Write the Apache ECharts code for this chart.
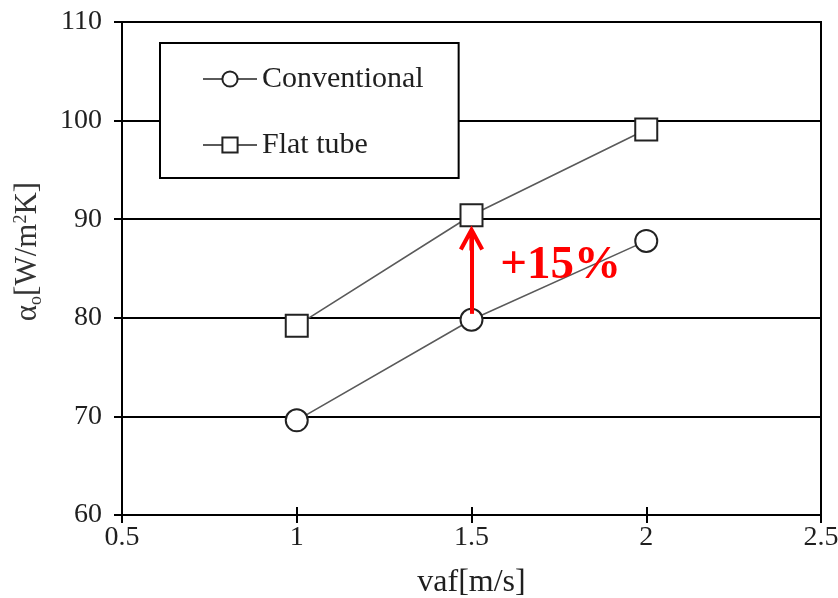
<!DOCTYPE html>
<html>
<head>
<meta charset="utf-8">
<script src="https://cdn.jsdelivr.net/npm/echarts@6/dist/echarts.min.js"></script>
<style>
  html, body { margin: 0; padding: 0; background: #fff; }
  #chart { width: 838px; height: 598px; }
</style>
</head>
<body>
<div id="chart"></div>
<script>
// Air-side heat transfer coefficient vs. frontal air velocity
const velocity = [1, 1.5, 2];
const conventional = [69.6, 79.8, 87.8];
const flatTube = [79.2, 90.4, 99.1];
const seriesNames = ['Conventional', 'Flat tube'];
const gainLabel = '+15%';
const gainArrow = { x: 1.5, from: 80.4, to: 88.1 };
const gainLabelPos = [1.755, 85.3];

const serif = '"Liberation Serif", "Times New Roman", serif';
const ink = '#1f1f1f';

const chart = echarts.init(document.getElementById('chart'));

function toPairs(xs, ys) { return xs.map((x, i) => [x, ys[i]]); }

const markerStyle = { color: '#fff', borderColor: '#222', borderWidth: 2 };
const lineStyle = { color: '#5a5a5a', width: 1.6 };

// open chevron arrow head with its stem, tip at the top of the box
const chevron = 'path://M12 0 L24 23 L20.5 25 L14 12.5 L14 25 L10 25 L10 12.5 L3.5 25 L0 23 Z';

const xScale = { type: 'value', min: 0.5, max: 2.5, interval: 0.5 };

chart.setOption({
  animation: false,
  backgroundColor: '#fff',
  grid: {
    left: 122, right: 17, top: 22, bottom: 83,
    outerBoundsMode: 'none', containLabel: false,
    show: true, borderColor: '#000', borderWidth: 2, backgroundColor: 'transparent'
  },
  legend: {
    orient: 'vertical',
    left: 160, top: 43,
    padding: [21, 35, 18, 42],
    itemGap: 36,
    itemWidth: 54, itemHeight: 19,
    backgroundColor: '#fff',
    borderColor: '#000', borderWidth: 2, borderRadius: 0,
    textStyle: { fontFamily: serif, fontSize: 30, color: ink },
    data: seriesNames
  },
  xAxis: [
    Object.assign({}, xScale, {
      name: 'vaf[m/s]', nameLocation: 'middle', nameGap: 52,
      nameTextStyle: { fontFamily: serif, fontSize: 32, color: ink },
      axisLine: { onZero: false, lineStyle: { color: '#000', width: 2 } },
      axisTick: { show: true, length: 8, lineStyle: { color: '#000', width: 2 } },
      axisLabel: { fontFamily: serif, fontSize: 28, color: ink, margin: 9 },
      splitLine: { show: false }
    }),
    // upper half of the crossing x ticks
    Object.assign({}, xScale, {
      position: 'bottom', offset: 0,
      axisLine: { show: false, onZero: false },
      axisTick: { show: true, inside: true, length: 8, lineStyle: { color: '#000', width: 2 } },
      axisLabel: { show: false },
      splitLine: { show: false }
    })
  ],
  yAxis: {
    type: 'value', min: 60, max: 110, interval: 10,
    name: '{a|α}{s|o}{a|[W/m}{p|2}{a|K]}',
    nameLocation: 'middle', nameGap: 76, nameRotate: 90,
    nameTextStyle: {
      padding: [0, 0, 0, 34],
      rich: {
        a: { fontFamily: serif, fontSize: 31, color: '#333', lineHeight: 36 },
        s: { fontFamily: serif, fontSize: 18, color: '#333', padding: [16, 0, 0, 0] },
        p: { fontFamily: serif, fontSize: 18, color: '#333', padding: [0, 0, 14, 0] }
      }
    },
    axisLine: { lineStyle: { color: '#000', width: 2 } },
    axisTick: { show: true, length: 8, lineStyle: { color: '#000', width: 2 } },
    axisLabel: { fontFamily: serif, fontSize: 28, color: ink, margin: 20 },
    splitLine: { show: true, lineStyle: { color: '#000', width: 2 } }
  },
  series: [
    {
      name: seriesNames[0], type: 'line', z: 3,
      data: toPairs(velocity, conventional),
      symbol: 'circle', symbolSize: 22,
      lineStyle: lineStyle, itemStyle: markerStyle
    },
    {
      name: seriesNames[1], type: 'line', z: 3,
      data: toPairs(velocity, flatTube),
      symbol: 'rect', symbolSize: 22,
      lineStyle: lineStyle, itemStyle: markerStyle,
      markLine: {
        silent: true, z: 5,
        symbol: ['none', chevron], symbolSize: [25, 25],
        lineStyle: { color: '#ff0000', width: 4, type: 'solid' },
        itemStyle: { color: '#ff0000' },
        label: { show: false },
        data: [[{ coord: [gainArrow.x, gainArrow.from] }, { coord: [gainArrow.x, gainArrow.to] }]]
      },
      markPoint: {
        silent: true, symbol: 'circle', symbolSize: 0,
        itemStyle: { color: 'transparent' },
        label: {
          show: true, position: 'inside', formatter: gainLabel,
          fontFamily: serif, fontWeight: 'bold', fontSize: 47, color: '#ff0000'
        },
        data: [{ coord: gainLabelPos }]
      }
    }
  ]
});
</script>
</body>
</html>
